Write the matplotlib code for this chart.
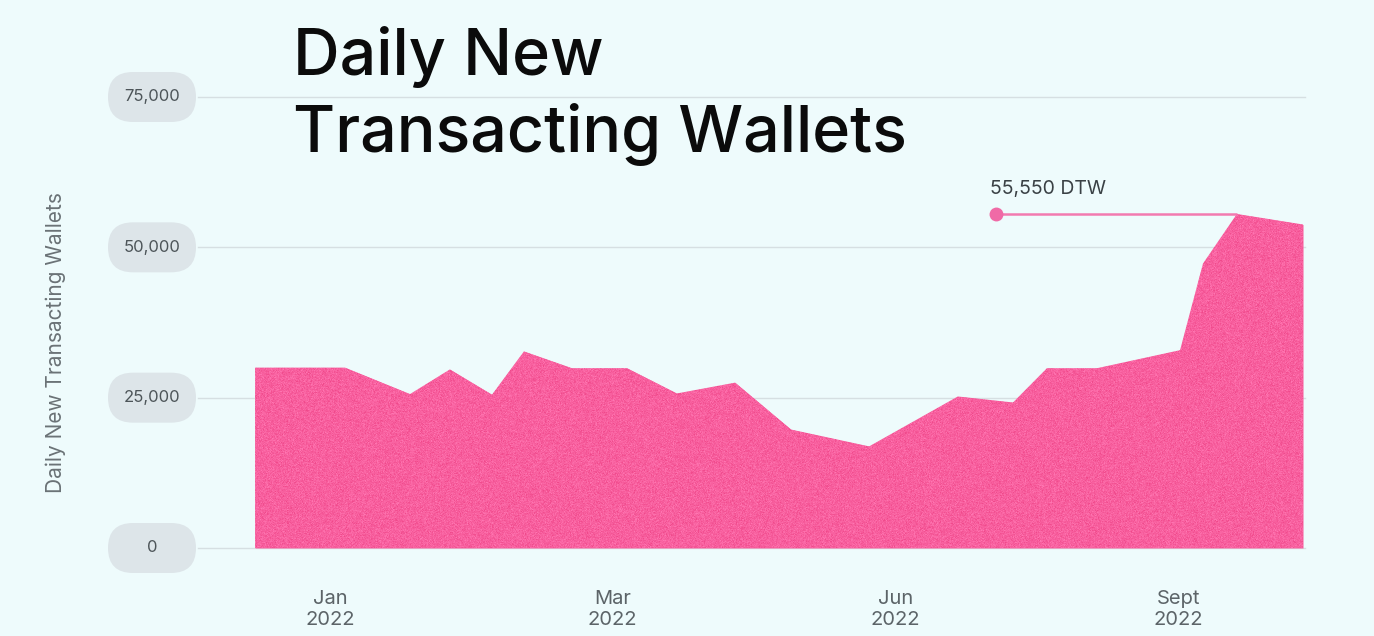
import numpy as np
import matplotlib
matplotlib.use("Agg")
import matplotlib.pyplot as plt
from matplotlib.patches import FancyBboxPatch

# ---- data -------------------------------------------------------------
# positions along the timeline, in units of the labelled periods
timeline = [-0.265, 0.053, 0.283, 0.424, 0.573, 0.686, 0.856, 1.051, 1.227,
            1.433, 1.631, 1.907, 2.221, 2.416, 2.536, 2.713, 3.007, 3.088,
            3.208, 3.442]
wallets = [30000, 30000, 25600, 29700, 25500, 32700, 29900, 29900, 25700,
           27500, 19700, 16900, 25200, 24200, 29900, 29900, 32900, 47300,
           55550, 53800]
period_ticks = [0, 1, 2, 3]
period_labels = ["Jan\n2022", "Mar\n2022", "Jun\n2022", "Sept\n2022"]
y_ticks = [0, 25000, 50000, 75000]
peak_label = "55,550 DTW"
annot_start = 2.356

# ---- style ------------------------------------------------------------
BG = "#eefbfc"
PINK = "#f8609f"
GRID = "#d6dfe2"
PILL = "#dde5e9"
FONT = ["Inter", "DejaVu Sans"]
plt.rcParams["font.family"] = FONT

W, H = 1374, 636
fig = plt.figure(figsize=(W / 100, H / 100), dpi=100, facecolor=BG)
ax = fig.add_axes([198 / W, (H - 548) / H, (1305 - 198) / W, (548 - 97) / H])
ax.set_facecolor(BG)
ax.set_xlim(-0.467, 3.449)
ax.set_ylim(0, 75000)
for s in ax.spines.values():
    s.set_visible(False)

# horizontal grid
for v in y_ticks:
    ax.axhline(v, color=GRID, lw=1.0, zorder=0, clip_on=False)

# area
x = np.array(timeline)
y = np.array(wallets)
area = ax.fill_between(x, 0, y, color=PINK, lw=0, zorder=2)

# grainy texture over the area
rng = np.random.default_rng(7)
ny, nx = 460, 1110
base = np.array(matplotlib.colors.to_rgb(PINK))
jitter = rng.normal(0, 1, (ny, nx))
light = np.clip(jitter, -2.5, 2.5)[..., None]
tex = np.clip(base + light * np.array([0.012, 0.035, 0.03]), 0, 1)
im = ax.imshow(tex, extent=(x.min(), x.max(), 0, y.max() * 1.02),
               aspect="auto", interpolation="nearest", zorder=3, origin="lower")
im.set_clip_path(area.get_paths()[0], transform=ax.transData)

# x ticks
ax.set_yticks([])
ax.set_xticks(period_ticks)
ax.set_xticklabels(period_labels, fontsize=14.5, color="#5c6468",
                   linespacing=1.25)
ax.tick_params(axis="x", length=0, pad=30)

# y tick labels as pills
fig.canvas.draw()
for v in y_ticks:
    yd = ax.transData.transform((0, v))[1] / fig.dpi
    cx = 152 / 100
    w, h = 0.88, 0.50
    pill = FancyBboxPatch((cx - w / 2, yd - h / 2), w, h,
                          boxstyle="round,pad=0,rounding_size=0.25",
                          transform=fig.dpi_scale_trans,
                          facecolor=PILL, edgecolor="none", clip_on=False)
    fig.add_artist(pill)
    fig.text(cx, yd, f"{v:,}", transform=fig.dpi_scale_trans,
             ha="center", va="center", fontsize=12, color="#4d5559")

# axis title
fig.text(56 / W, (H - 343) / H, "Daily New Transacting Wallets",
         rotation=90, ha="center", va="center", fontsize=15,
         color="#6a7276")

# chart title
fig.text(293 / W, (H - 75) / H, "Daily New", ha="left", va="baseline",
         fontsize=46.5, color="#0b0b0b", fontweight="medium")
fig.text(293 / W, (H - 152) / H, "Transacting Wallets", ha="left",
         va="baseline", fontsize=46.5, color="#0b0b0b", fontweight="medium")

# peak annotation
peak_i = int(np.argmax(y))
ax.plot([annot_start, x[peak_i]], [y[peak_i], y[peak_i]], color="#f27ab0",
        lw=1.8, zorder=4, solid_capstyle="butt")
ax.plot([annot_start], [y[peak_i]], "o", ms=10, color="#f06aa6",
        mec="none", zorder=5)
ax.annotate(peak_label, (annot_start, y[peak_i]), xytext=(-4, 18),
            textcoords="offset points", ha="left", va="center",
            fontsize=14, color="#3a4145")

fig.savefig("out.png", dpi=100, facecolor=BG)
